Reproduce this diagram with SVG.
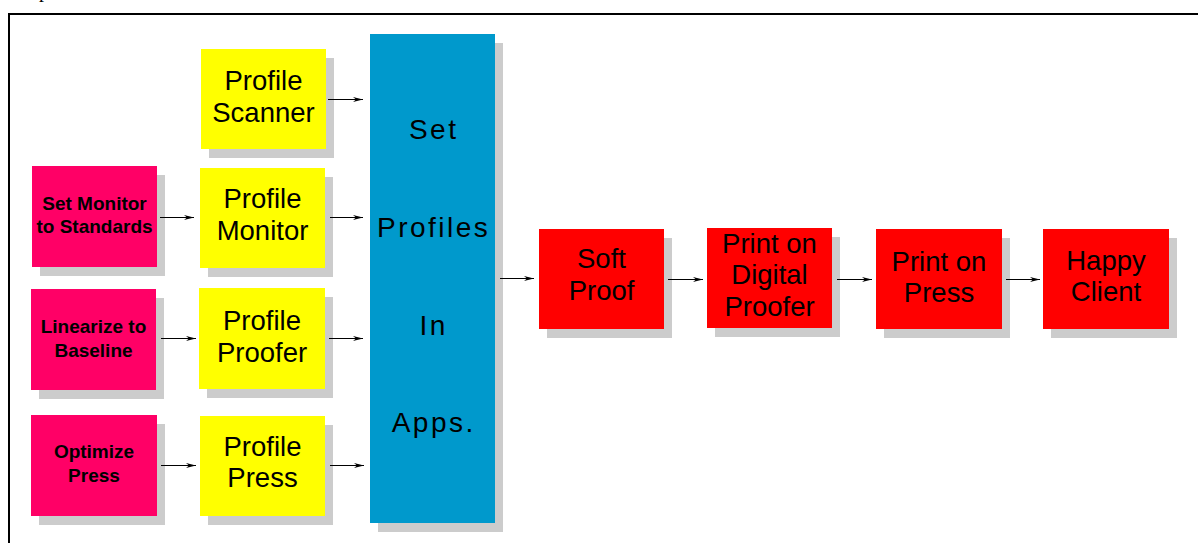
<svg xmlns="http://www.w3.org/2000/svg" width="1198" height="543" viewBox="0 0 1198 543">
  <style>
    .shadow { fill: #cccccc; }
    .prep { fill: #ff0066; }
    .profile { fill: #ffff00; }
    .apps { fill: #0099cc; }
    .stage { fill: #ff0000; }
    text { font-family: "Liberation Sans", Arial, sans-serif; fill: #000; text-anchor: middle; }
    .small { font-size: 19px; font-weight: bold; }
    .big { font-size: 27.5px; }
    .wide { font-size: 28px; letter-spacing: 2.5px; }
    .conn line { stroke: #000; stroke-width: 1; marker-end: url(#head); }
  </style>
  <defs>
    <marker id="head" markerUnits="userSpaceOnUse" markerWidth="11" markerHeight="6" refX="10" refY="2.5" orient="auto">
      <path d="M0,0 L10,2.5 L0,5 L3,2.5 z" fill="#000"/>
    </marker>
  </defs>

  <rect width="1198" height="543" fill="#fff"/>

  <!-- page frame and the foot of the caption line above it -->
  <text x="44" y="-3" style="font-family:'Liberation Serif',serif;font-size:20px">p</text>
  <path d="M9,543 V14 H1198" fill="none" stroke="#000" stroke-width="2"/>

  <g id="profile-scanner">
    <rect class="shadow" x="209" y="58" width="125" height="100"/>
    <rect class="profile" x="201" y="49" width="125" height="100"/>
    <text class="big" x="263.5" y="90">Profile</text>
    <text class="big" x="263.5" y="121.7">Scanner</text>
  </g>

  <g id="set-monitor">
    <rect class="shadow" x="40" y="175" width="125" height="101"/>
    <rect class="prep" x="32" y="166" width="125" height="101"/>
    <text class="small" x="94.5" y="210">Set Monitor</text>
    <text class="small" x="94.5" y="233">to Standards</text>
  </g>

  <g id="profile-monitor">
    <rect class="shadow" x="208" y="177" width="125" height="100"/>
    <rect class="profile" x="200" y="168" width="125" height="100"/>
    <text class="big" x="262.5" y="208.3">Profile</text>
    <text class="big" x="262.5" y="240">Monitor</text>
  </g>

  <g id="linearize">
    <rect class="shadow" x="39" y="298" width="125" height="101"/>
    <rect class="prep" x="31" y="289" width="125" height="101"/>
    <text class="small" x="93.5" y="333.3">Linearize to</text>
    <text class="small" x="93.5" y="357.3">Baseline</text>
  </g>

  <g id="profile-proofer">
    <rect class="shadow" x="207" y="297" width="126" height="101"/>
    <rect class="profile" x="199" y="288" width="126" height="101"/>
    <text class="big" x="262" y="330">Profile</text>
    <text class="big" x="262" y="361.7">Proofer</text>
  </g>

  <g id="optimize-press">
    <rect class="shadow" x="39" y="424" width="126" height="101"/>
    <rect class="prep" x="31" y="415" width="126" height="101"/>
    <text class="small" x="94" y="458.3">Optimize</text>
    <text class="small" x="94" y="482.3">Press</text>
  </g>

  <g id="profile-press">
    <rect class="shadow" x="208" y="425" width="125" height="100"/>
    <rect class="profile" x="200" y="416" width="125" height="100"/>
    <text class="big" x="262.5" y="455.7">Profile</text>
    <text class="big" x="262.5" y="487.3">Press</text>
  </g>

  <g id="set-profiles">
    <rect class="shadow" x="378" y="43" width="125" height="489"/>
    <rect class="apps" x="370" y="34" width="125" height="489"/>
    <text class="wide" x="433.7" y="139">Set</text>
    <text class="wide" x="433.7" y="236.7">Profiles</text>
    <text class="wide" x="433.7" y="334.5">In</text>
    <text class="wide" x="433.7" y="432">Apps.</text>
  </g>

  <g id="soft-proof">
    <rect class="shadow" x="547" y="238" width="125" height="100"/>
    <rect class="stage" x="539" y="229" width="125" height="100"/>
    <text class="big" x="601.5" y="268.3">Soft</text>
    <text class="big" x="601.5" y="300">Proof</text>
  </g>

  <g id="digital-proofer">
    <rect class="shadow" x="715" y="237" width="125" height="100"/>
    <rect class="stage" x="707" y="228" width="125" height="100"/>
    <text class="big" x="769.5" y="253.3">Print on</text>
    <text class="big" x="769.5" y="284">Digital</text>
    <text class="big" x="769.5" y="316">Proofer</text>
  </g>

  <g id="print-press">
    <rect class="shadow" x="884" y="238" width="126" height="100"/>
    <rect class="stage" x="876" y="229" width="126" height="100"/>
    <text class="big" x="939" y="271">Print on</text>
    <text class="big" x="939" y="301.7">Press</text>
  </g>

  <g id="happy-client">
    <rect class="shadow" x="1051" y="238" width="126" height="100"/>
    <rect class="stage" x="1043" y="229" width="126" height="100"/>
    <text class="big" x="1106" y="270">Happy</text>
    <text class="big" x="1106" y="300.7">Client</text>
  </g>

  <g id="connectors" class="conn">
    <line x1="328" y1="99.5" x2="363" y2="99.5"/>
    <line x1="160" y1="217.5" x2="194" y2="217.5"/>
    <line x1="330" y1="217.5" x2="363" y2="217.5"/>
    <line x1="161" y1="338.5" x2="196" y2="338.5"/>
    <line x1="329" y1="338.5" x2="363" y2="338.5"/>
    <line x1="161" y1="465.5" x2="196" y2="465.5"/>
    <line x1="330" y1="465.5" x2="364" y2="465.5"/>
    <line x1="500" y1="278.5" x2="534" y2="278.5"/>
    <line x1="668" y1="279.5" x2="703" y2="279.5"/>
    <line x1="837" y1="279.5" x2="872" y2="279.5"/>
    <line x1="1006" y1="279.5" x2="1040" y2="279.5"/>
  </g>
</svg>
